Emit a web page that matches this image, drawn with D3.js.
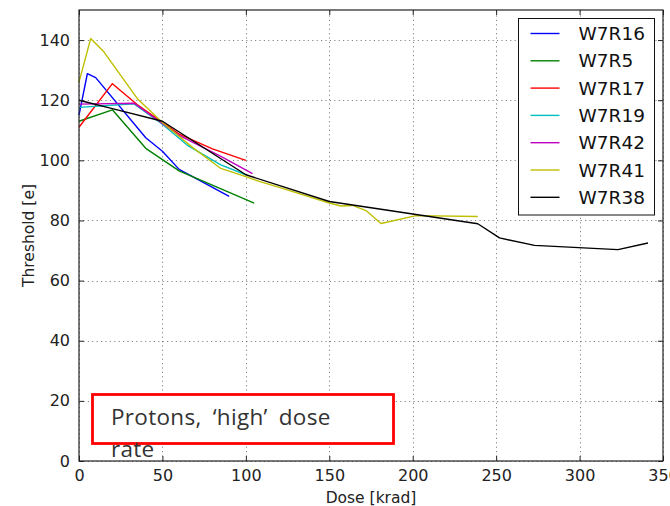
<!DOCTYPE html>
<html>
<head>
<meta charset="utf-8">
<script src="https://cdn.jsdelivr.net/npm/d3@7"></script>
<style>
  html, body { margin: 0; padding: 0; background: #fff; }
  svg { display: block; }
</style>
</head>
<body>
<svg id="chart" width="670" height="506"></svg>
<script>
// Threshold versus dose for each sensor (proton irradiation)
const seriesNames = ["W7R16", "W7R5", "W7R17", "W7R19", "W7R42", "W7R41", "W7R38"];
const seriesColors = ["#0000ff", "#008000", "#ff0000", "#00bfbf", "#bf00bf", "#bfbf00", "#000000"];

const w7r16Dose = [0, 5, 10, 40, 50, 60, 75, 90];
const w7r16Thr  = [115, 128.8, 127.5, 107.5, 103, 97, 92.5, 88];

const w7r5Dose = [0, 20, 40, 60, 105];
const w7r5Thr  = [113, 116.8, 104, 96.5, 85.8];

const w7r17Dose = [0, 20, 35, 60, 80, 100];
const w7r17Thr  = [111, 125.5, 118.5, 108.7, 103.8, 100];

const w7r19Dose = [0, 33, 50, 65, 85, 100];
const w7r19Thr  = [117.6, 118.8, 112, 105, 98.5, 95.2];

const w7r42Dose = [0, 33, 60, 85, 104];
const w7r42Thr  = [118.7, 119, 108.3, 101.3, 95.6];

const w7r41Dose = [0, 7, 15, 35, 50, 68, 85, 100, 108, 120, 150, 157, 164, 172, 181, 202, 239];
const w7r41Thr  = [126, 140.5, 136, 120.5, 112.6, 104.3, 97.3, 94.6, 93, 91, 85.8, 84.8, 85, 83.3, 79, 81.6, 81.3];

const w7r38Dose = [0, 20, 50, 100, 150, 239, 252, 273, 323, 341];
const w7r38Thr  = [120, 117.2, 113, 95.2, 86.3, 78.9, 74.2, 71.7, 70.3, 72.5];

const xTicks = [0, 50, 100, 150, 200, 250, 300, 350];
const yTicks = [0, 20, 40, 60, 80, 100, 120, 140];

const annotationLines = ["Protons, \u2018high\u2019 dose", "rate"];

const doses = [w7r16Dose, w7r5Dose, w7r17Dose, w7r19Dose, w7r42Dose, w7r41Dose, w7r38Dose];
const thresholds = [w7r16Thr, w7r5Thr, w7r17Thr, w7r19Thr, w7r42Thr, w7r41Thr, w7r38Thr];
const series = seriesNames.map((name, i) => ({
  name,
  color: seriesColors[i],
  points: doses[i].map((d, j) => [d, thresholds[i][j]])
}));

const svg = d3.select("#chart");
const margin = { left: 79, right: 7, top: 10, bottom: 45 };
const W = 670, H = 506;
const plotW = W - margin.left - margin.right;
const plotH = H - margin.top - margin.bottom;

const x = d3.scaleLinear().domain([0, 350]).range([margin.left, margin.left + plotW]);
const y = d3.scaleLinear().domain([0, 150]).range([margin.top + plotH, margin.top]);

const tickFont = "'DejaVu Sans', sans-serif";

// grid
const grid = svg.append("g").attr("class", "grid");
grid.selectAll("line.gx").data(xTicks).join("line")
  .attr("x1", d => Math.round(x(d)) + 0.5).attr("x2", d => Math.round(x(d)) + 0.5)
  .attr("y1", y(0)).attr("y2", y(150))
  .attr("stroke", "#666").attr("stroke-width", 0.8).attr("stroke-dasharray", "1.2,3.2");
grid.selectAll("line.gy").data(yTicks).join("line")
  .attr("y1", d => Math.round(y(d)) + 0.5).attr("y2", d => Math.round(y(d)) + 0.5)
  .attr("x1", x(0)).attr("x2", x(350))
  .attr("stroke", "#666").attr("stroke-width", 0.8).attr("stroke-dasharray", "1.2,3.2");

// data lines
const line = d3.line().x(d => x(d[0])).y(d => y(d[1]));
svg.append("g").selectAll("path").data(series).join("path")
  .attr("d", d => line(d.points))
  .attr("fill", "none")
  .attr("stroke", d => d.color)
  .attr("stroke-width", 1.4)
  .attr("stroke-linejoin", "round");

// axes with inward ticks
const xAxis = d3.axisBottom(x).tickValues(xTicks).tickSizeInner(-5).tickSizeOuter(0).tickPadding(9);
const yAxis = d3.axisLeft(y).tickValues(yTicks).tickSizeInner(-5).tickSizeOuter(0).tickPadding(9);
const gx = svg.append("g").attr("transform", `translate(0,${y(0)})`).call(xAxis);
const gy = svg.append("g").attr("transform", `translate(${x(0)},0)`).call(yAxis);
[gx, gy].forEach(g => {
  g.select(".domain").remove();
  g.selectAll(".tick line").attr("stroke", "#222");
  g.selectAll(".tick text").attr("font-family", tickFont).attr("font-size", 16).attr("fill", "#222");
});
// mirrored ticks on top and right
svg.append("g").attr("transform", `translate(0,${y(150)})`)
  .call(d3.axisTop(x).tickValues(xTicks).tickSizeInner(-5).tickSizeOuter(0).tickFormat(""))
  .call(g => { g.select(".domain").remove(); g.selectAll(".tick line").attr("stroke", "#222"); });
svg.append("g").attr("transform", `translate(${x(350)},0)`)
  .call(d3.axisRight(y).tickValues(yTicks).tickSizeInner(-5).tickSizeOuter(0).tickFormat(""))
  .call(g => { g.select(".domain").remove(); g.selectAll(".tick line").attr("stroke", "#222"); });

// frame
svg.append("rect")
  .attr("x", x(0)).attr("y", y(150))
  .attr("width", x(350) - x(0)).attr("height", y(0) - y(150))
  .attr("fill", "none").attr("stroke", "#222").attr("stroke-width", 1.2);

// axis titles
svg.append("text")
  .attr("x", (x(0) + x(350)) / 2).attr("y", 503)
  .attr("text-anchor", "middle")
  .attr("font-family", tickFont).attr("font-size", 15.5).attr("fill", "#222")
  .text("Dose [krad]");
svg.append("text")
  .attr("transform", `translate(34,${(y(0) + y(150)) / 2}) rotate(-90)`)
  .attr("text-anchor", "middle")
  .attr("font-family", tickFont).attr("font-size", 15.5).attr("fill", "#222")
  .text("Threshold [e]");

// legend
const legend = svg.append("g").attr("transform", "translate(518.5,18.5)");
legend.append("rect")
  .attr("width", 136).attr("height", 196.5)
  .attr("fill", "#fff").attr("stroke", "#111").attr("stroke-width", 1);
const rows = legend.selectAll("g.row").data(series).join("g")
  .attr("transform", (d, i) => `translate(0,${15 + i * 27.3})`);
rows.append("line")
  .attr("x1", 12).attr("x2", 41).attr("y1", 0).attr("y2", 0)
  .attr("stroke", d => d.color).attr("stroke-width", 1.4);
rows.append("text")
  .attr("x", 60).attr("y", 0).attr("dy", "0.36em")
  .attr("font-family", tickFont).attr("font-size", 18.5).attr("fill", "#111")
  .text(d => d.name);

// annotation box
svg.append("rect")
  .attr("x", 92.5).attr("y", 394.5).attr("width", 301).attr("height", 49)
  .attr("fill", "#fff").attr("stroke", "#ff0000").attr("stroke-width", 2.8);
svg.append("g").selectAll("text").data(annotationLines).join("text")
  .attr("x", 111).attr("y", (d, i) => 425 + i * 32)
  .attr("font-family", "'Open Sans', sans-serif").attr("font-size", 22.5)
  .attr("letter-spacing", 0.3).attr("word-spacing", 5)
  .attr("fill", "#333")
  .text(d => d);
</script>
</body>
</html>
